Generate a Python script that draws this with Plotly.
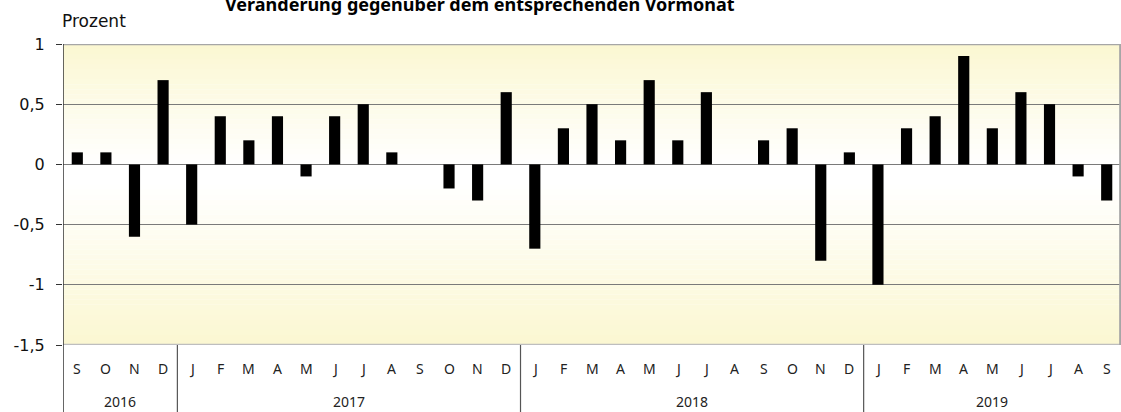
import plotly.graph_objects as go

months = ["S", "O", "N", "D",
          "J", "F", "M", "A", "M", "J", "J", "A", "S", "O", "N", "D",
          "J", "F", "M", "A", "M", "J", "J", "A", "S", "O", "N", "D",
          "J", "F", "M", "A", "M", "J", "J", "A", "S"]
years = ["2016"] * 4 + ["2017"] * 12 + ["2018"] * 12 + ["2019"] * 9
values = [0.1, 0.1, -0.6, 0.7,
          -0.5, 0.4, 0.2, 0.4, -0.1, 0.4, 0.5, 0.1, 0.0, -0.2, -0.3, 0.6,
          -0.7, 0.3, 0.5, 0.2, 0.7, 0.2, 0.6, 0.0, 0.2, 0.3, -0.8, 0.1,
          -1.0, 0.3, 0.4, 0.9, 0.3, 0.6, 0.5, -0.1, -0.3]
ytick_vals = [1, 0.5, 0, -0.5, -1, -1.5]
ytick_text = ["1", "0,5", "0", "-0,5", "-1", "-1,5"]
title_text = "Veränderung gegenüber dem entsprechenden Vormonat"
unit_text = "Prozent"

W, H = 1121, 412
ML, MR, MT, MB = 63, 0, 44, 67
n = len(values)
xs = list(range(n))
ymin, ymax = -1.5, 1.0
PH = H - MT - MB
PW = W - ML - MR

fig = go.Figure()
fig.add_trace(go.Bar(x=xs, y=values, marker=dict(color="#000000", line=dict(width=0)),
                     width=0.39, hoverinfo="skip"))

shapes = []
# gradient background
yellow = (251, 247, 209)
def mix(t):
    r = round(255 + (yellow[0] - 255) * t)
    g = round(255 + (yellow[1] - 255) * t)
    b = round(255 + (yellow[2] - 255) * t)
    return f"rgb({r},{g},{b})"
steps = 60
for i in range(steps):
    y0 = ymin + (ymax - ymin) * i / steps
    y1 = ymin + (ymax - ymin) * (i + 1) / steps
    yc = (y0 + y1) / 2
    if yc >= 0:
        t = yc / 1.0
    else:
        t = min(1.0, max(0.0, (-yc - 0.15) / 1.35))
    shapes.append(dict(type="rect", xref="paper", yref="y", x0=0, x1=1, y0=y0, y1=y1,
                       fillcolor=mix(t), line=dict(width=0), layer="below"))
# borders
shapes.append(dict(type="line", xref="paper", yref="y", x0=0, x1=1, y0=ymax, y1=ymax,
                   line=dict(color="#A6A6A6", width=2.5)))
shapes.append(dict(type="line", xref="paper", yref="y", x0=0, x1=1, y0=ymin, y1=ymin,
                   line=dict(color="#BEBEBE", width=2.5)))
shapes.append(dict(type="line", xref="paper", yref="y", x0=0.9992, x1=0.9992, y0=ymin, y1=ymax,
                   line=dict(color="#A6A6A6", width=2)))
# left axis extending down through the category labels
shapes.append(dict(type="line", xref="x", yref="paper", x0=-0.5, x1=-0.5, y0=-MB / PH, y1=1,
                   line=dict(color="#333333", width=1.5)))

# year groups
annotations = []
groups = []
for i, yv in enumerate(years):
    if not groups or groups[-1][0] != yv:
        groups.append([yv, i, i])
    else:
        groups[-1][2] = i
for gi, (yv, a, b) in enumerate(groups):
    annotations.append(dict(x=(a + b) / 2, y=0, xref="x", yref="paper", yshift=-56,
                            text=yv, showarrow=False, yanchor="middle",
                            font=dict(family="Noto Sans", size=14, color="#222222")))
    if gi > 0:
        shapes.append(dict(type="line", xref="x", yref="paper", x0=a - 0.5, x1=a - 0.5,
                           y0=-MB / PH, y1=0, line=dict(color="#555555", width=1.2)))

for i, m in enumerate(months):
    annotations.append(dict(x=i, y=0, xref="x", yref="paper", yshift=-23,
                            text=m, showarrow=False, yanchor="middle",
                            font=dict(family="Noto Sans", size=14, color="#222222")))

annotations.append(dict(x=0, y=1, xref="paper", yref="paper", xanchor="left", yanchor="bottom",
                        xshift=-3, yshift=11, text=unit_text, showarrow=False,
                        font=dict(family="DejaVu Sans", size=17, color="#111111")))
annotations.append(dict(x=(480 - ML) / PW, y=1, xref="paper", yref="paper",
                        xanchor="center", yanchor="bottom",
                        text="<b>" + title_text + "</b>", showarrow=False, yshift=26,
                        font=dict(family="Noto Sans", size=18, color="#000000")))

fig.update_layout(
    width=W, height=H,
    margin=dict(l=ML, r=MR, t=MT, b=MB, pad=0),
    paper_bgcolor="white", plot_bgcolor="white",
    showlegend=False, bargap=0.6,
    shapes=shapes, annotations=annotations,
    xaxis=dict(range=[-0.5, n - 0.5], showticklabels=False, showgrid=False, zeroline=False,
               ticks="", showline=False, fixedrange=True),
    yaxis=dict(range=[ymin, ymax], tickvals=ytick_vals, ticktext=ytick_text,
               showgrid=True, gridcolor="#7A7A7A", gridwidth=1.4,
               zeroline=True, zerolinecolor="#7A7A7A", zerolinewidth=1.4,
               ticks="outside", ticklen=6, tickcolor="#333333", tickwidth=1.3,
               showline=False, ticklabelstandoff=8,
               tickfont=dict(family="DejaVu Sans", size=16, color="#111111"),
               fixedrange=True),
)

fig.write_html("out.html", config={"displayModeBar": False},
               post_script="document.body.style.margin='0';document.body.style.overflow='hidden';")
